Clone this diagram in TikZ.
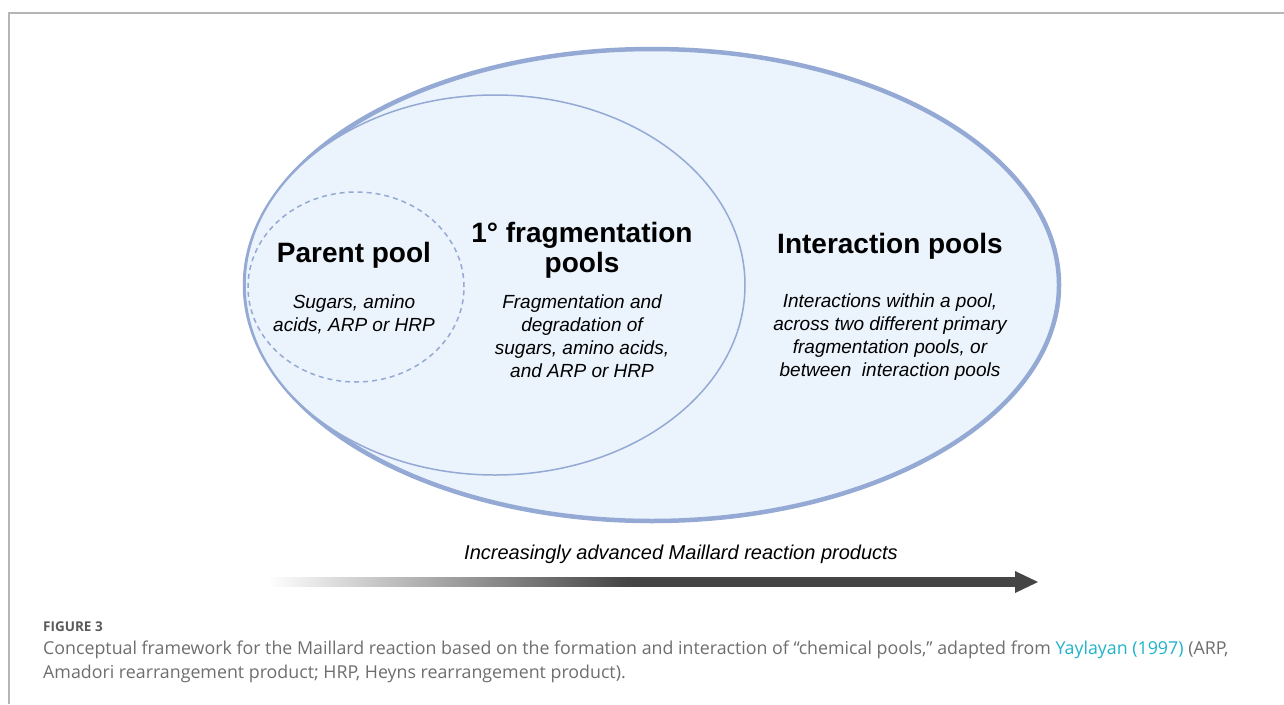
\documentclass[tikz,border=0pt]{standalone}
\usepackage{fontspec}
\setmainfont{Liberation Sans}
\newfontfamily\capfont{Open Sans}
\definecolor{poolfill}{HTML}{EBF3FC}
\definecolor{poolline}{HTML}{94A9D4}
\definecolor{arrowgray}{HTML}{454545}
\definecolor{framegray}{HTML}{B5B5B5}
\definecolor{capgray}{HTML}{6E6E6E}
\definecolor{figgray}{HTML}{5A5A5A}
\definecolor{linkcyan}{HTML}{1FB3CB}
\pgfdeclarehorizontalshading{arrowshade}{100bp}{color(0bp)=(white); color(25bp)=(white); color(49bp)=(arrowgray); color(100bp)=(arrowgray)}
\tikzset{
  title/.style={font=\fontsize{28}{30}\selectfont\bfseries, inner sep=0pt, anchor=base, align=center},
  body/.style={font=\fontsize{19}{23}\selectfont\itshape, inner sep=0pt, anchor=base, align=center},
}
\begin{document}
\begin{tikzpicture}[x=1pt,y=-1pt]
\useasboundingbox (0,0) rectangle (1284,704);
% frame
\draw[framegray, line width=1.5pt] (1284,13) -- (9,13) -- (9,704);
% pools
\draw[poolline, fill=poolfill, line width=4.5pt] (652,285) ellipse [x radius=407pt, y radius=236pt];
\draw[poolline, fill=poolfill, line width=1.5pt] (495,285) ellipse [x radius=250pt, y radius=190pt];
\draw[poolline, line width=1.5pt, dash pattern=on 5pt off 4pt] (356,287) ellipse [x radius=108pt, y radius=95pt];
% texts (anchor base = baseline of the last line)
\node[title] (parent) at (354,262) {Parent pool};
\node[body] (parentb) at (354,331) {Sugars, amino\\acids, ARP or HRP};
\node[title] (frag) at (582,272) {1° fragmentation\\pools};
\node[body] (fragb) at (582,377) {Fragmentation and\\degradation of\\sugars, amino acids,\\and ARP or HRP};
\node[title] (inter) at (890,253) {Interaction pools};
\node[body] (interb) at (890,376) {Interactions within a pool,\\across two different primary\\fragmentation pools, or\\between\ \ interaction pools};
\node[font=\fontsize{20}{24}\selectfont\itshape, inner sep=0pt, anchor=base] (adv) at (681,559) {Increasingly advanced Maillard reaction products};
% arrow
\coordinate (a0) at (268,582);
\coordinate (a2) at (1015,582);
\coordinate (tip) at (1038,582);
\shade[shading=arrowshade] ([yshift=-4.5pt]a0) rectangle ([yshift=4.5pt,xshift=1pt]a2);
\fill[arrowgray] ([yshift=-11pt]a2) -- (tip) -- ([yshift=11pt]a2) -- cycle;
% caption
\node[font=\capfont\bfseries\fontsize{13.5}{16}\selectfont, text=figgray, inner sep=0pt, anchor=base west] (fig) at (43,631) {FIGURE 3};
\node[font=\capfont\fontsize{17.8}{23.5}\selectfont, text=capgray, inner sep=0pt, anchor=base west, align=left] (cap) at (43,678) {Conceptual framework for the Maillard reaction based on the formation and interaction of “chemical pools,” adapted from \textcolor{linkcyan}{Yaylayan (1997)} (ARP,\\Amadori rearrangement product; HRP, Heyns rearrangement product).};
\end{tikzpicture}
\end{document}
